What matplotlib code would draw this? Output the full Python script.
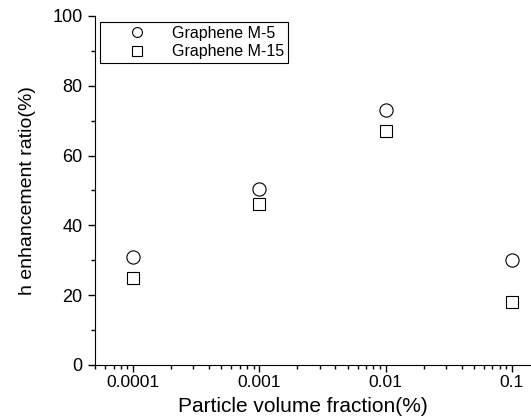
import numpy as np
import matplotlib
matplotlib.use('Agg')
import matplotlib.pyplot as plt
from matplotlib.ticker import LogLocator, MultipleLocator, FixedFormatter, FixedLocator

plt.rcParams['font.family'] = 'Liberation Sans'

frac = [0.0001, 0.001, 0.01, 0.1]
frac_labels = ['0.0001', '0.001', '0.01', '0.1']
m5 = [31, 50.5, 73, 30]
m15 = [25, 46, 67, 18]

fig = plt.figure(figsize=(5.31, 4.16), dpi=100)
ax = fig.add_axes([0.179, 0.1226, 0.821, 0.839])

ax.plot(frac, m5, 'o', ms=9.5, mfc='white', mec='black', mew=0.8, label='Graphene M-5', clip_on=False)
ax.plot(frac, m15, 's', ms=9, mfc='white', mec='black', mew=0.8, label='Graphene M-15', clip_on=False)

ax.set_xscale('log')
ax.set_xlim(5.0e-5, 0.1414)
ax.set_ylim(0, 100)
ax.xaxis.set_major_locator(FixedLocator(frac))
ax.xaxis.set_major_formatter(FixedFormatter(frac_labels))
ax.xaxis.set_minor_locator(LogLocator(base=10, subs=np.arange(2, 10)))
ax.yaxis.set_major_locator(MultipleLocator(20))
ax.yaxis.set_minor_locator(MultipleLocator(10))

for s in ['top', 'right']:
    ax.spines[s].set_visible(False)
ax.tick_params(which='major', direction='out', length=5, width=1, labelsize=13, pad=4)
ax.tick_params(axis='x', which='major', labelsize=12.5, pad=2.5)
ax.tick_params(which='minor', direction='out', length=3, width=1)

ax.set_xlabel('Particle volume fraction(%)', fontsize=15, va='bottom')
ax.xaxis.set_label_coords(0.477, -0.1456)
ax.set_ylabel('h enhancement ratio(%)', fontsize=14, labelpad=12)

leg = ax.legend(loc='upper left', fontsize=11.5, frameon=True, fancybox=False,
                edgecolor='black', framealpha=1, borderpad=0.25, markerscale=0.75,
                bbox_to_anchor=(0.0115, 0.983), borderaxespad=0,
                handlelength=4.1, handletextpad=0.15, labelspacing=0.2)
leg.get_frame().set_linewidth(0.8)

fig.savefig('out.png', dpi=100)
